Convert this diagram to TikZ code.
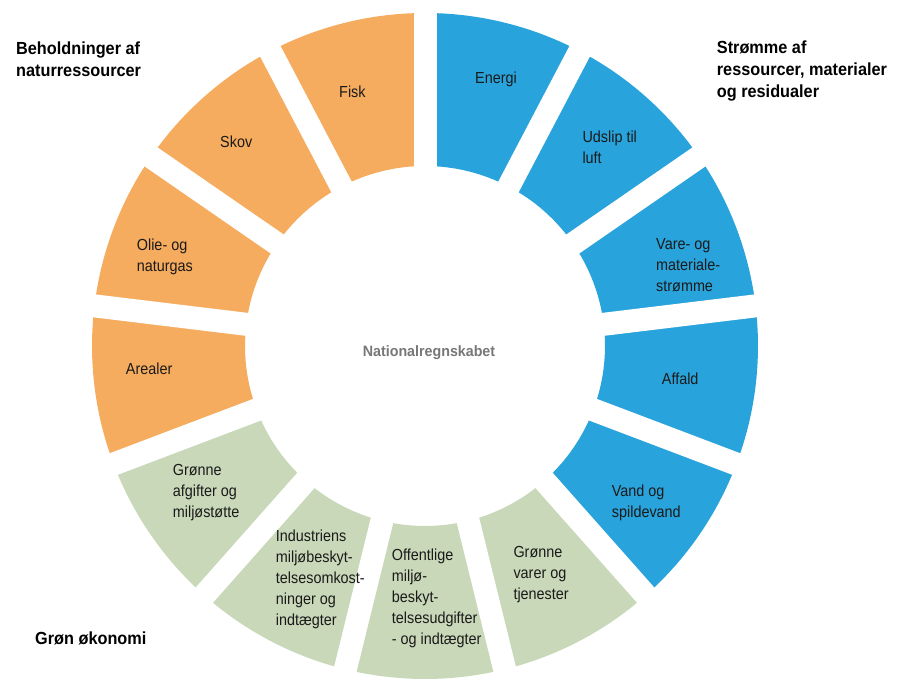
\documentclass[tikz,border=0pt]{standalone}
\usepackage{fontspec}
\setmainfont{Liberation Sans}
\newfontfamily\lblfont[FakeStretch=0.9]{Liberation Sans}
\newfontfamily\ttlfont[FakeStretch=0.93]{Liberation Sans}
\newfontfamily\ctrfont[FakeStretch=0.95]{Liberation Sans}
\definecolor{cblue}{HTML}{29A3DB}
\definecolor{corange}{HTML}{F6AC5F}
\definecolor{cgreen}{HTML}{C8D8B8}
\definecolor{ctext}{HTML}{1A1A1A}
\definecolor{cgray}{HTML}{777777}
\tikzset{
  lbl/.style={anchor=base west, inner sep=0pt, align=left, text=ctext,
    font=\lblfont\fontsize{16}{21}\selectfont},
  ttl/.style={anchor=base west, inner sep=0pt, align=left, text=black,
    font=\ttlfont\bfseries\fontsize{17.5}{22.3}\selectfont},
  ctr/.style={anchor=base west, inner sep=0pt, text=cgray,
    font=\ctrfont\bfseries\fontsize{15}{18}\selectfont},
  gapline/.style={white, line width=23pt}
}
\begin{document}
\begin{tikzpicture}[x=1pt,y=1pt]
\useasboundingbox (0,0) rectangle (901,682);
\begin{scope}[shift={(425,336)}]
  \foreach \k/\col in {0/cblue,1/cblue,2/cblue,3/cblue,4/cblue,
                       5/cgreen,6/cgreen,7/cgreen,8/cgreen,
                       9/corange,10/corange,11/corange,12/corange}{
    \pgfmathsetmacro{\aa}{90-\k*360/13}
    \pgfmathsetmacro{\ab}{90-(\k+1)*360/13}
    \fill[\col] (\aa:333pt) arc[start angle=\aa, end angle=\ab, radius=333pt]
      -- (\ab:180pt) arc[start angle=\ab, end angle=\aa, radius=180pt] -- cycle;
  }
  \foreach \k in {0,...,12}{
    \pgfmathsetmacro{\aa}{90-\k*360/13}
    \draw[gapline] (0,0) -- (\aa:350pt);
  }
\end{scope}
% segment labels (base anchor = baseline of last line)
\node[lbl] (fisk) at (339,584.3) {Fisk};
\node[lbl] (energi) at (475,598.7) {Energi};
\node[lbl] (udslip) at (582.3,518.7) {Udslip til\\luft};
\node[lbl] (skov) at (220,534.3) {Skov};
\node[lbl] (olie) at (136.7,410) {Olie- og\\naturgas};
\node[lbl] (arealer) at (125.7,307.7) {Arealer};
\node[lbl] (vare) at (656,390.7) {Vare- og\\materiale-\\strømme};
\node[lbl] (affald) at (661.7,297) {Affald};
\node[lbl] (vand) at (611.7,164.3) {Vand og\\spildevand};
\node[lbl] (gvarer) at (513.3,82) {Grønne\\varer og\\tjenester};
\node[lbl] (offentlige) at (391.7,37.3) {Offentlige\\miljø-\\beskyt-\\telsesudgifter\\- og indtægter};
\node[lbl] (industriens) at (275.7,56.3) {Industriens\\miljøbeskyt-\\telsesomkost-\\ninger og\\indtægter};
\node[lbl] (gafgifter) at (172.7,164.3) {Grønne\\afgifter og\\miljøstøtte};
% titles
\node[ttl] (beh) at (16,605.4) {Beholdninger af\\naturressourcer};
\node[ttl] (strom) at (716.7,584.1) {Strømme af\\ressourcer, materialer\\og residualer};
\node[ttl] (gron) at (35,37.7) {Grøn økonomi};
\node[ctr] (nat) at (362.7,325.3) {Nationalregnskabet};
\end{tikzpicture}
\end{document}
